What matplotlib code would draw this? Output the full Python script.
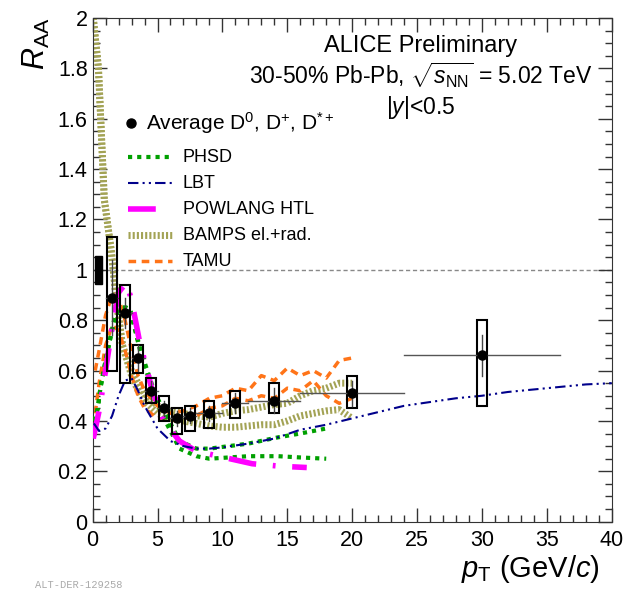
import matplotlib
matplotlib.use('Agg')
import matplotlib.pyplot as plt
from matplotlib.patches import Rectangle

plt.rcParams['font.family'] = ['Liberation Sans', 'DejaVu Sans']
plt.rcParams['mathtext.fontset'] = 'custom'
plt.rcParams['mathtext.rm'] = 'Liberation Sans'
plt.rcParams['mathtext.it'] = 'Liberation Sans:italic'

# ALICE data: average D0, D+, D*+ RAA, 30-50%
pt = [1.5, 2.5, 3.5, 4.5, 5.5, 6.5, 7.5, 9, 11, 14, 20, 30]
pt_lo = [1, 2, 3, 4, 5, 6, 7, 8, 10, 12, 16, 24]
pt_hi = [2, 3, 4, 5, 6, 7, 8, 10, 12, 16, 24, 36]
raa = [0.89, 0.83, 0.65, 0.52, 0.45, 0.41, 0.42, 0.43, 0.47, 0.48, 0.51, 0.66]
stat = [0.15, 0.06, 0.05, 0.04, 0.03, 0.03, 0.03, 0.03, 0.04, 0.05, 0.05, 0.08]
syst_up = [0.24, 0.11, 0.05, 0.05, 0.05, 0.04, 0.04, 0.05, 0.05, 0.07, 0.07, 0.14]
syst_dn = [0.29, 0.28, 0.06, 0.05, 0.05, 0.06, 0.06, 0.06, 0.06, 0.05, 0.06, 0.20]
norm_unc = 0.055

# models
phsd_pt = [0.1, 0.4, 0.6, 1.0, 1.7, 2.2, 2.6, 2.9, 3.7, 4.8, 5.6, 6.7, 8, 9, 10.5, 12, 14.3, 16, 18]
phsd_up = [0.40, 0.45, 0.53, 0.64, 0.81, 0.85, 0.85, 0.84, 0.68, 0.51, 0.43, 0.32, 0.29, 0.29, 0.30, 0.31, 0.335, 0.35, 0.37]
phsd_dn = [0.40, 0.45, 0.53, 0.64, 0.81, 0.85, 0.85, 0.84, 0.67, 0.49, 0.40, 0.29, 0.26, 0.25, 0.255, 0.26, 0.26, 0.255, 0.25]

lbt_pt = [0.1, 0.5, 1.0, 1.5, 2.0, 2.5, 3.0, 3.5, 4.0, 5, 6, 7, 8, 9, 10, 12, 14, 16, 18, 20, 22, 24, 26, 28, 30, 32, 34, 36, 38, 40]
lbt = [0.39, 0.36, 0.37, 0.42, 0.50, 0.56, 0.57, 0.52, 0.46, 0.37, 0.32, 0.30, 0.29, 0.29, 0.295, 0.31, 0.33, 0.365, 0.385, 0.41, 0.435, 0.46, 0.475, 0.49, 0.50, 0.515, 0.525, 0.535, 0.545, 0.55]

powlang_pt = [0.05, 0.5, 1.0, 1.5, 2.0, 2.6, 3.0, 3.6, 4.6, 5.5, 6.7, 8, 9.7, 12.3, 14.5, 16.5]
powlang = [0.33, 0.44, 0.60, 0.77, 0.91, 0.95, 0.88, 0.72, 0.52, 0.40, 0.32, 0.28, 0.26, 0.23, 0.22, 0.215]

bamps_pt = [0.05, 0.45, 0.9, 1.45, 1.85, 2.3, 3.0, 3.5, 4.0, 5, 6, 7, 8, 9, 10, 11, 12, 13, 14, 15, 16, 17, 18, 19, 20]
bamps_up = [2.0, 1.8, 1.28, 1.07, 0.87, 0.70, 0.60, 0.55, 0.51, 0.46, 0.44, 0.43, 0.42, 0.415, 0.43, 0.44, 0.445, 0.455, 0.465, 0.47, 0.50, 0.52, 0.53, 0.55, 0.55]
bamps_dn = [2.0, 1.8, 1.28, 1.07, 0.87, 0.70, 0.58, 0.52, 0.48, 0.43, 0.41, 0.40, 0.39, 0.38, 0.375, 0.375, 0.38, 0.385, 0.385, 0.40, 0.42, 0.43, 0.44, 0.445, 0.41]

tamu_pt = [0.2, 0.5, 1.0, 1.5, 2.0, 2.5, 3.0, 3.5, 4.0, 5, 6, 7, 8, 9, 10, 11, 12, 13, 14, 15, 16, 17, 18, 19, 20]
tamu_up = [0.60, 0.68, 0.82, 0.90, 0.89, 0.80, 0.68, 0.58, 0.52, 0.46, 0.43, 0.44, 0.46, 0.49, 0.50, 0.53, 0.52, 0.58, 0.56, 0.61, 0.58, 0.60, 0.57, 0.64, 0.65]
tamu_dn = [0.43, 0.55, 0.70, 0.78, 0.76, 0.68, 0.58, 0.50, 0.45, 0.41, 0.40, 0.41, 0.42, 0.45, 0.46, 0.49, 0.48, 0.50, 0.49, 0.53, 0.52, 0.56, 0.50, 0.47, 0.49]

c_phsd = '#00a000'
c_lbt = '#00008b'
c_pow = '#ff00ff'
c_bamps = '#a3a355'
c_tamu = '#ff7418'

st_phsd = dict(color=c_phsd, lw=3, ls=(0, (1, 1.2)))
st_lbt = dict(color=c_lbt, lw=1.5, ls=(0, (5, 2, 1, 2, 1, 2)))
st_pow = dict(color=c_pow, lw=4, ls=(0, (5, 3, 0.5, 3)))
st_bamps = dict(color=c_bamps, lw=5, ls=(0, (0.3, 0.3)))
st_tamu = dict(color=c_tamu, lw=2.5, ls=(0, (2.2, 1.6)))

fig = plt.figure(figsize=(6.3, 5.92), dpi=100)
ax = fig.add_axes([0.147, 0.1188, 0.824, 0.8508])

ax.axhline(1.0, color='#888888', lw=1, ls=(0, (3, 2)), zorder=1)

ax.plot(bamps_pt, bamps_up, **st_bamps, zorder=2)
ax.plot(bamps_pt, bamps_dn, **st_bamps, zorder=2)
ax.plot(tamu_pt, tamu_up, **st_tamu, zorder=2)
ax.plot(tamu_pt, tamu_dn, **st_tamu, zorder=2)
ax.plot(phsd_pt, phsd_up, **st_phsd, zorder=3)
ax.plot(phsd_pt, phsd_dn, **st_phsd, zorder=3)
ax.plot(powlang_pt, powlang, **st_pow, zorder=3)
ax.plot(lbt_pt, lbt, **st_lbt, zorder=3)

# data
for i in range(len(pt)):
    ax.add_patch(Rectangle((pt[i] - 0.38, raa[i] - syst_dn[i]), 0.76, syst_up[i] + syst_dn[i],
                           fill=False, ec='black', lw=1.5, zorder=5))
    ax.plot([pt_lo[i], pt_hi[i]], [raa[i], raa[i]], color='#555555', lw=1, zorder=5)
    ax.plot([pt[i], pt[i]], [raa[i] - stat[i], raa[i] + stat[i]], color='#444444', lw=1, zorder=5)
ax.plot(pt, raa, 'o', color='black', ms=6.5, zorder=6)

ax.add_patch(Rectangle((0.22, 1 - norm_unc), 0.5, 2 * norm_unc, color='black', zorder=5))

ax.set_xlim(0, 40)
ax.set_ylim(0, 2)
ax.set_xticks(range(0, 41, 5))
ax.set_xticks(range(0, 41, 1), minor=True)
ax.set_yticks([0, 0.2, 0.4, 0.6, 0.8, 1, 1.2, 1.4, 1.6, 1.8, 2])
ax.set_yticklabels(['0', '0.2', '0.4', '0.6', '0.8', '1', '1.2', '1.4', '1.6', '1.8', '2'])
ax.set_yticks([i * 0.05 for i in range(41)], minor=True)
ax.tick_params(which='both', direction='in', top=True, right=True, labelsize=15.5, color='#333333')
ax.tick_params(which='major', length=10, width=1)
ax.tick_params(which='minor', length=5, width=1)
ax.tick_params(axis='x', pad=6)
for s in ax.spines.values():
    s.set_color('#333333')

ax.set_ylabel(r'$R_{\rm AA}$', fontsize=22, loc='top', labelpad=4)
ax.set_xlabel(r'$p_{\rm T}$ (GeV/$c$)', fontsize=21, loc='right', labelpad=0)
ax.xaxis.set_label_coords(0.978, -0.062)

# header text
fig.text(0.668, 0.922, 'ALICE Preliminary', fontsize=17, ha='center', va='center')
fig.text(0.668, 0.872, r'30-50% Pb-Pb, $\sqrt{s_{\rm NN}}$ = 5.02 TeV', fontsize=16.5, ha='center', va='center')
fig.text(0.668, 0.818, r'|$y$|<0.5', fontsize=16.5, ha='center', va='center')

# legend
ax.plot([0.074], [0.791], 'o', color='black', ms=6.5, transform=ax.transAxes, clip_on=False)
ax.text(0.103, 0.791, r'Average D$^{0}$, D$^{+}$, D$^{*+}$', fontsize=15, va='center', transform=ax.transAxes)
leg_rows = [('PHSD', st_phsd, 0.724), ('LBT', st_lbt, 0.672), ('POWLANG HTL', st_pow, 0.620),
            ('BAMPS el.+rad.', st_bamps, 0.569), ('TAMU', st_tamu, 0.517)]
for name, st, yy in leg_rows:
    ax.plot([0.068, 0.153], [yy, yy], transform=ax.transAxes, **st)
    ax.text(0.174, yy, name, fontsize=13, va='center', transform=ax.transAxes)

fig.text(0.055, 0.004, 'ALT-DER-129258', fontsize=7.5, color='#aaaaaa', family='Liberation Mono', va='bottom')

fig.savefig('out.png', dpi=100)
